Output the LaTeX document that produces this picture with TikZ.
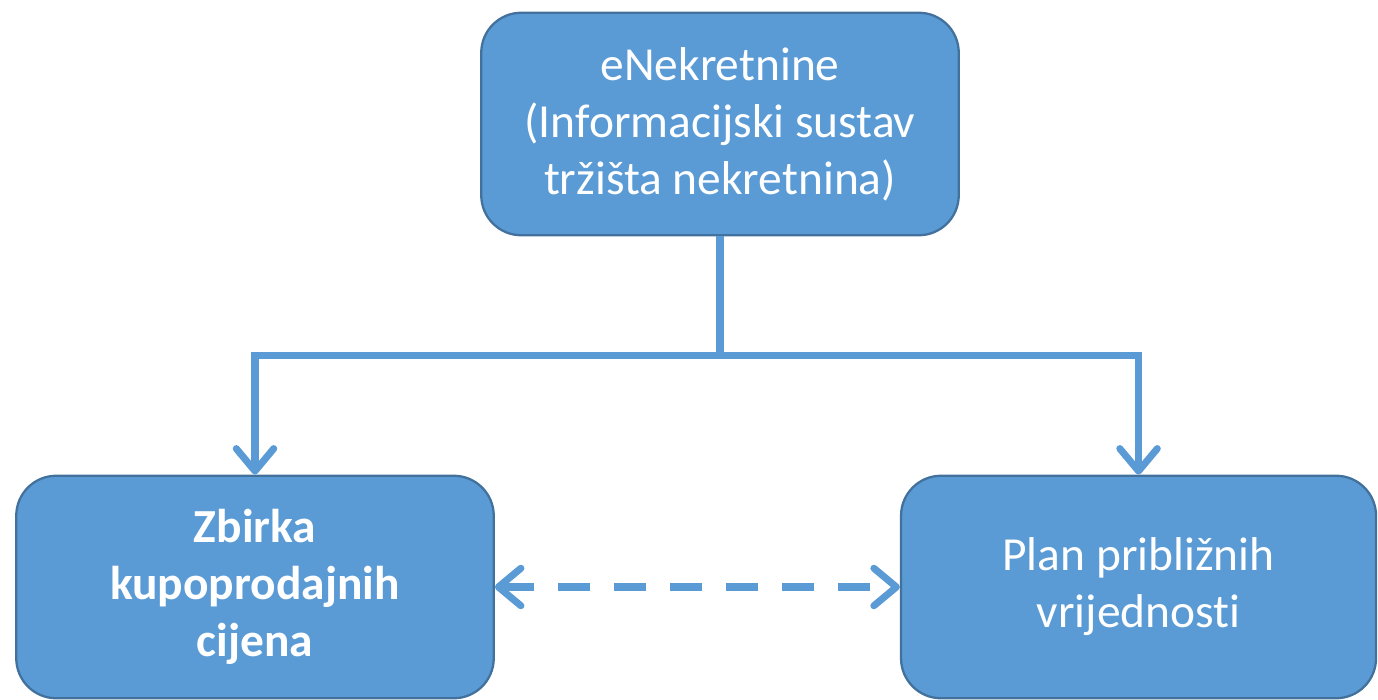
\documentclass[tikz,border=0pt]{standalone}
\usepackage{fontspec}
\setmainfont{Carlito}[Ligatures=NoCommon]
\usetikzlibrary{positioning,arrows.meta}
\definecolor{boxblue}{HTML}{5B9BD5}
\definecolor{boxedge}{HTML}{41719C}
\tikzset{
  barb/.tip={Straight Barb[length=0.45cm,width=0.75cm,round]},
  infobox/.style={draw=boxedge,fill=boxblue,line width=1.3pt,rounded corners=0.8cm,
    text=white,align=center,minimum width=9.55cm,minimum height=4.45cm,
    font=\fontsize{27}{32.5}\selectfont},
  link/.style={draw=boxblue,line width=4pt,-barb}
}
\begin{document}
\begin{tikzpicture}
\useasboundingbox (0,0) rectangle (27.56,-14);
\draw
    node [infobox] (enek) at (14.4,-2.48) {eNekretnine\\(Informacijski sustav\\tržišta nekretnina)};
\draw
    node [infobox,font=\fontsize{27}{32.5}\selectfont\bfseries] (zbirka) at (5.1,-11.74) {Zbirka\\kupoprodajnih\\cijena};
\draw
    node [infobox,right=8.1cm of zbirka,minimum width=9.5cm] (plan) {Plan približnih\\vrijednosti};
\draw (enek.south) [draw=boxblue,line width=4pt] -- ++(0,-2.38) coordinate (split);
\draw (split) [link] -| (zbirka.north);
\draw (split) [link] -| (plan.north);
\draw (zbirka.east) [link,barb-barb,dash pattern=on 0.64cm off 0.48cm] -- (plan.west);
\end{tikzpicture}
\end{document}
